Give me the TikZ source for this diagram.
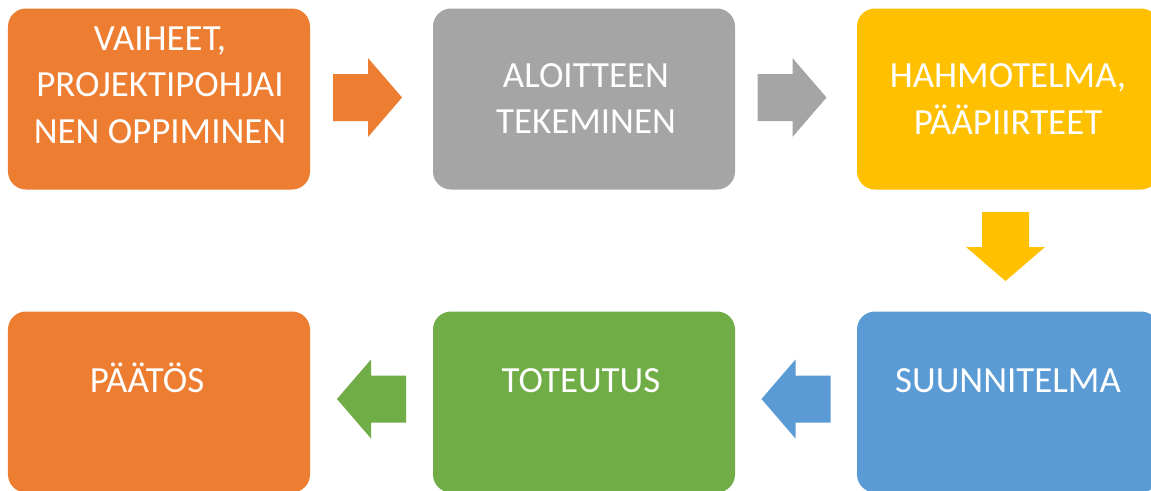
\documentclass[tikz,border=0pt]{standalone}
\usepackage{fontspec}
\setmainfont{Carlito}
\usepackage{tikz}
\usetikzlibrary{calc}
\definecolor{vorange}{HTML}{ED7D31}
\definecolor{vgray}{HTML}{A5A5A5}
\definecolor{vgold}{HTML}{FFC000}
\definecolor{vblue}{HTML}{5B9BD5}
\definecolor{vgreen}{HTML}{70AD47}
\tikzstyle{box} = [rectangle, rounded corners=0.36cm, minimum width=6.04cm, minimum height=3.62cm, inner sep=0pt]
\tikzstyle{boxtext} = [text=white, align=center, inner sep=0pt, font=\fontsize{21}{26.5}\selectfont]
\tikzset{blockarrow/.pic={
  \path[pic actions] (-0.69,-0.47) -- (0.01,-0.47) -- (0.01,-0.79) -- (0.69,0)
    -- (0.01,0.79) -- (0.01,0.47) -- (-0.69,0.47) -- cycle;}}

\begin{document}
\begin{tikzpicture}
\path[use as bounding box, fill=white] (0,0) rectangle (23.02,9.8);
\clip (0,0) rectangle (23.02,9.8);

% Top row
\node[box, fill=vorange] (b1) at (3.18,7.82) {};
\node[box, fill=vgray] (b2) at (11.68,7.82) {};
\node[box, fill=vgold] (b3) at (20.16,7.82) {};

% Bottom row
\node[box, fill=vorange] (b4) at (3.18,1.76) {};
\node[box, fill=vgreen] (b5) at (11.68,1.76) {};
\node[box, fill=vblue] (b6) at (20.16,1.76) {};

% Texts
\node[boxtext] (t1) at (3.20,8.10) {VAIHEET,\\PROJEKTIPOHJAI\\NEN OPPIMINEN};
\node[boxtext] (t2) at (11.72,7.83) {ALOITTEEN\\TEKEMINEN};
\node[boxtext] (t3) at (20.16,7.82) {HAHMOTELMA,\\PÄÄPIIRTEET};
\node[boxtext, anchor=base] (t4) at (2.94,1.96) {PÄÄTÖS};
\node[boxtext, anchor=base] (t5) at (11.62,1.96) {TOTEUTUS};
\node[boxtext, anchor=base] (t6) at (20.16,1.96) {SUUNNITELMA};

% Block arrows between the boxes
\pic[fill=vorange] at ($(b1.east)!0.5!(b2.west)+(-0.08,0.03)$) {blockarrow};
\pic[fill=vgray] at ($(b2.east)!0.5!(b3.west)+(-0.08,0.03)$) {blockarrow};
\pic[fill=vgold, rotate=-90] at ($(b3.south)!0.5!(b6.north)+(-0.05,0.08)$) {blockarrow};
\pic[fill=vblue, rotate=180] at ($(b6.west)!0.5!(b5.east)+(0,0.06)$) {blockarrow};
\pic[fill=vgreen, rotate=180] at ($(b5.west)!0.5!(b4.east)+(0,0.06)$) {blockarrow};

\end{tikzpicture}
\end{document}
